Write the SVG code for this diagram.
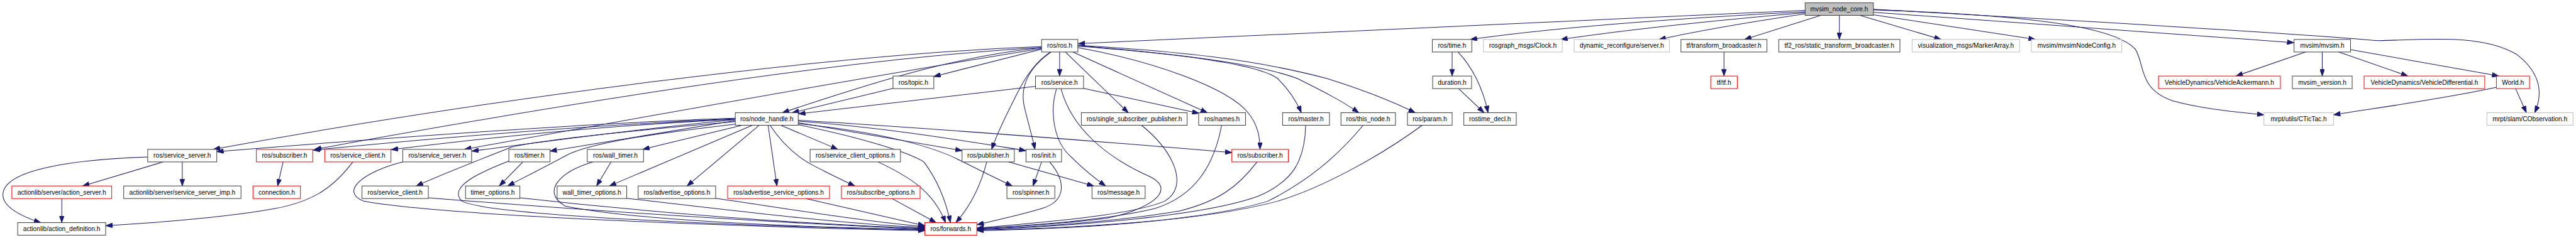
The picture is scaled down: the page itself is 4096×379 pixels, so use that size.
<svg xmlns="http://www.w3.org/2000/svg" width="4096" height="379" viewBox="0 0 4096 379">
<style>
.n rect{fill:#fff;stroke:#404040;stroke-width:1.3}
.n.r rect{stroke:#ff0000}
.n.g rect{stroke:#bfbfbf}
.n.root rect{fill:#bfbfbf}
.n text{font-family:"Liberation Sans",Arial,sans-serif;font-size:13.1px;text-anchor:middle;fill:#000}
#edges path{fill:none;stroke:#191970;stroke-width:1.3;marker-end:url(#a)}
</style>
<defs>
<marker id="a" viewBox="0 0 14 10" refX="14" refY="5" markerWidth="14" markerHeight="10" markerUnits="userSpaceOnUse" orient="auto">
<path d="M0,0 L14,5 L0,10 z" fill="#191970" stroke="#191970" stroke-width="1"/>
</marker>
</defs>
<rect width="4096" height="379" fill="#fff"/>
<g transform="scale(0.78138)">
<g id="edges">
<!-- root -->
<path d="M3673,21 L2194,89"/>
<path d="M3673,24 C3400,38 3150,58 2992,80.4"/>
<path d="M3673,26 C3500,40 3300,62 3176,80.4"/>
<path d="M3673,28 C3560,45 3450,64 3376,80.4"/>
<path d="M3705,31.3 L3550,80.4"/>
<path d="M3743,31.3 L3743,80.4"/>
<path d="M3785,31.3 L3950,80.4"/>
<path d="M3812,30 L4142,80.4"/>
<path d="M3812,25 L4668,87"/>
<path d="M3812,20 C4100,30 4300,50 4345,100 C4365,130 4350,180 4420,205 C4480,222 4550,228 4607,234"/>
<path d="M3812,19 C4200,40 4700,70 4840,83 C4950,80 5050,70 5120,110 C5160,140 5180,180 5158,229.7"/>
<!-- mvsim.h -->
<path d="M4692,106 L4550,155"/>
<path d="M4725.6,106 L4725.6,155"/>
<path d="M4759,106 L4900,155"/>
<path d="M4783,101 L5085,155"/>
<!-- World.h -->
<path d="M5080,178 C4980,200 4850,218 4748.5,234"/>
<path d="M5119,180.6 L5141,229.7"/>
<!-- tf -->
<path d="M3508.2,106 L3508.2,155"/>
<!-- time -->
<path d="M2955,106 L2955,155"/>
<path d="M2967,106 C2995,135 3018,180 3028,229.7"/>
<path d="M2968,180.6 L3020,229.7"/>
<!-- ros.h -->
<path d="M2156.3,106 L2156.3,155"/>
<path d="M2168,106 L2296,229.7"/>
<path d="M2183,106 L2457,229.7"/>
<path d="M2193,97 C2350,125 2500,180 2540,230 C2560,255 2564,280 2564,304.4"/>
<path d="M2193,94 C2400,110 2560,130 2600,160 C2620,180 2638,205 2648,229.7"/>
<path d="M2193,93 C2400,110 2560,130 2640,160 C2690,185 2730,205 2765,229.7"/>
<path d="M2193,92 C2400,105 2550,120 2700,160 C2780,185 2840,210 2880,229.7"/>
<path d="M2137,106 C2110,125 2090,150 2070,190 C2045,240 2030,270 2018,304.4"/>
<path d="M2139,106 C2090,140 2075,180 2085,220 C2092,250 2100,275 2106,304.4"/>
<path d="M2120,97 C1950,115 1800,160 1592,229.7"/>
<path d="M2120,100 L1900,156"/>
<path d="M2120,95 C1700,110 1000,200 434,304.4"/>
<path d="M2120,97 C1700,120 1100,220 640,304.4"/>
<path d="M2120,99 C1800,150 1300,240 945,304.4"/>
<!-- service.h -->
<path d="M2107,176 L1625,232"/>
<path d="M2205,180 L2440,231"/>
<path d="M2150,180.6 C2135,230 2145,290 2180,320 C2210,350 2230,365 2250,379"/>
<path d="M2159,180.6 C2180,260 2250,320 2340,360 C2400,390 2330,430 2250,445 C2150,458 2050,462 1988,466"/>
<!-- row3 to forwards -->
<path d="M2323,255.3 C2390,310 2420,380 2370,410 C2300,440 2100,455 1988,465"/>
<path d="M2486,255.3 C2470,340 2430,400 2350,425 C2250,450 2080,460 1988,466"/>
<path d="M2558,330 C2520,380 2480,410 2400,430 C2250,455 2100,463 1988,467"/>
<path d="M2657,255.3 C2655,330 2630,370 2560,400 C2450,440 2200,460 1988,468"/>
<path d="M2774,255.3 C2720,320 2660,370 2580,410 C2450,450 2200,465 1988,469"/>
<path d="M2894,255.3 C2820,310 2700,380 2600,410 C2450,450 2200,466 1988,470"/>
<!-- init / publisher -->
<path d="M2119.6,330 L2102,379"/>
<path d="M2136,330 C2170,370 2170,410 2120,425 C2070,440 2030,448 1988,458"/>
<path d="M2008,330 C1995,380 1975,420 1945,453.7"/>
<path d="M2052,330 L2226,379"/>
<!-- node_handle -->
<path d="M1496,241 C1200,250 800,280 441,309"/>
<path d="M1496,242 C1200,255 900,280 637,306"/>
<path d="M1496,243 C1200,258 1000,280 796,305"/>
<path d="M1496,244 C1300,262 1100,290 960,308"/>
<path d="M1496,246 C1350,270 1200,295 1119,308"/>
<path d="M1496,248 C1300,265 1100,285 1040,300 C990,320 900,355 847,379"/>
<path d="M1496,253 C1350,270 1200,290 1150,318 C1100,345 1060,365 1033,379"/>
<path d="M1510,255.3 L1308,304.4"/>
<path d="M1531,255.3 L1240,379"/>
<path d="M1545,255.3 L1398,379"/>
<path d="M1563,255.3 L1581,379"/>
<path d="M1567,255.3 C1590,290 1620,320 1660,340 C1690,355 1715,368 1740,379"/>
<path d="M1589,255.3 L1705,304.4"/>
<path d="M1624,250 L1958,307"/>
<path d="M1624,247 C1800,260 1950,285 2088,307"/>
<path d="M1624,252 C1800,270 1900,300 1950,325 C1990,345 2030,365 2060,379"/>
<path d="M1624,245 C1900,262 2200,285 2507,311"/>
<path d="M1624,254 C1750,280 1850,310 1880,330 C1910,370 1925,410 1934,453.7"/>
<path d="M1817,180 L1612,229.7"/>
<!-- into forwards from left/top -->
<path d="M1787,330 C1850,360 1900,390 1924,453.7"/>
<path d="M1815,404.6 L1905,453.7"/>
<path d="M1640,404.6 L1882,460"/>
<path d="M1456,404 C1600,425 1750,450 1882,462"/>
<path d="M1275,404 C1500,430 1700,455 1882,464"/>
<path d="M1058,403 C1300,430 1600,455 1882,466"/>
<path d="M1243.5,330 L1214,379"/>
<path d="M1207,330 C1140,350 1100,390 1150,420 C1300,450 1600,462 1882,468"/>
<path d="M1064,330 L1016,379"/>
<path d="M1036,328 C980,350 910,380 940,410 C1000,440 1500,460 1882,469"/>
<path d="M872,403 C1200,430 1600,455 1882,467"/>
<path d="M820,330 C740,350 690,390 740,410 C900,440 1500,462 1882,470"/>
<!-- actionlib side -->
<path d="M300.6,320 C150,325 10,345 6,395 C4,420 40,440 83,453.7"/>
<path d="M332,330 L168,379"/>
<path d="M370.9,330 L370.9,379"/>
<path d="M125.7,404.6 L125.7,453.7"/>
<path d="M718,330 C680,380 640,410 560,425 C450,445 300,455 215,460"/>
<path d="M576,330 L565,379"/>
</g>
<g id="n_root" class="n root"><rect x="3673.4" y="5.7" width="138.8" height="25.6"/><text x="3742.8" y="23">mvsim_node_core.h</text></g>
<g id="n_ros" class="n"><rect x="2119.6" y="80.4" width="73.7" height="25.6"/><text x="2156.45" y="97.7">ros/ros.h</text></g>
<g id="n_time" class="n"><rect x="2914.7" y="80.4" width="80.3" height="25.6"/><text x="2954.85" y="97.7">ros/time.h</text></g>
<g id="n_clock" class="n g"><rect x="3018.7" y="80.4" width="160.5" height="25.6"/><text x="3098.95" y="97.7">rosgraph_msgs/Clock.h</text></g>
<g id="n_dynrec" class="n g"><rect x="3203.3" y="80.4" width="193.9" height="25.6"/><text x="3300.25" y="97.7">dynamic_reconfigure/server.h</text></g>
<g id="n_tfbc" class="n"><rect x="3420.6" y="80.4" width="175" height="25.6"/><text x="3508.1" y="97.7">tf/transform_broadcaster.h</text></g>
<g id="n_tf2" class="n"><rect x="3619.7" y="80.4" width="246.5" height="25.6"/><text x="3742.95" y="97.7">tf2_ros/static_transform_broadcaster.h</text></g>
<g id="n_marker" class="n g"><rect x="3891" y="80.4" width="218.7" height="25.6"/><text x="4000.35" y="97.7">visualization_msgs/MarkerArray.h</text></g>
<g id="n_nodecfg" class="n g"><rect x="4133.8" y="80.4" width="183.9" height="25.6"/><text x="4225.75" y="97.7">mvsim/mvsimNodeConfig.h</text></g>
<g id="n_mvsim" class="n"><rect x="4668.3" y="80.4" width="114.9" height="25.6"/><text x="4725.75" y="97.7">mvsim/mvsim.h</text></g>
<g id="n_topic" class="n"><rect x="1817.2" y="155" width="83" height="25.6"/><text x="1858.7" y="172.3">ros/topic.h</text></g>
<g id="n_service" class="n"><rect x="2107.2" y="155" width="97.8" height="25.6"/><text x="2156.1" y="172.3">ros/service.h</text></g>
<g id="n_duration" class="n"><rect x="2915.4" y="155" width="79.2" height="25.6"/><text x="2955" y="172.3">duration.h</text></g>
<g id="n_tf" class="n r"><rect x="3481.2" y="155" width="54.1" height="25.6"/><text x="3508.25" y="172.3">tf/tf.h</text></g>
<g id="n_ack" class="n r"><rect x="4392.4" y="155" width="248" height="25.6"/><text x="4516.4" y="172.3">VehicleDynamics/VehicleAckermann.h</text></g>
<g id="n_version" class="n"><rect x="4664.8" y="155" width="121.7" height="25.6"/><text x="4725.65" y="172.3">mvsim_version.h</text></g>
<g id="n_diff" class="n r"><rect x="4810.8" y="155" width="245.5" height="25.6"/><text x="4933.55" y="172.3">VehicleDynamics/VehicleDifferential.h</text></g>
<g id="n_world" class="n r"><rect x="5080" y="155" width="67.4" height="25.6"/><text x="5113.7" y="172.3">World.h</text></g>
<g id="n_nh" class="n"><rect x="1496.3" y="229.7" width="128.1" height="25.6"/><text x="1560.35" y="247">ros/node_handle.h</text></g>
<g id="n_ssp" class="n"><rect x="2200.5" y="229.7" width="215.2" height="25.6"/><text x="2308.1" y="247">ros/single_subscriber_publisher.h</text></g>
<g id="n_names" class="n"><rect x="2439.2" y="229.7" width="95.3" height="25.6"/><text x="2486.85" y="247">ros/names.h</text></g>
<g id="n_master" class="n"><rect x="2610" y="229.7" width="95.4" height="25.6"/><text x="2657.7" y="247">ros/master.h</text></g>
<g id="n_thisnode" class="n"><rect x="2728.8" y="229.7" width="110.9" height="25.6"/><text x="2784.25" y="247">ros/this_node.h</text></g>
<g id="n_param" class="n"><rect x="2864.1" y="229.7" width="90.9" height="25.6"/><text x="2909.55" y="247">ros/param.h</text></g>
<g id="n_rtdecl" class="n"><rect x="2978.8" y="229.7" width="106.7" height="25.6"/><text x="3032.15" y="247">rostime_decl.h</text></g>
<g id="n_tictac" class="n g"><rect x="4607" y="229.7" width="141.5" height="25.6"/><text x="4677.75" y="247">mrpt/utils/CTicTac.h</text></g>
<g id="n_cobs" class="n g"><rect x="5060.7" y="229.7" width="175.3" height="25.6"/><text x="5148.35" y="247">mrpt/slam/CObservation.h</text></g>
<g id="n_ss1" class="n"><rect x="300.6" y="304.4" width="140.5" height="25.6"/><text x="370.85" y="321.7">ros/service_server.h</text></g>
<g id="n_sub1" class="n r"><rect x="521.7" y="304.4" width="114.7" height="25.6"/><text x="579.05" y="321.7">ros/subscriber.h</text></g>
<g id="n_sc1" class="n r"><rect x="660.8" y="304.4" width="134.7" height="25.6"/><text x="728.15" y="321.7">ros/service_client.h</text></g>
<g id="n_ss2" class="n"><rect x="819.6" y="304.4" width="140.1" height="25.6"/><text x="889.65" y="321.7">ros/service_server.h</text></g>
<g id="n_timer" class="n"><rect x="1035.5" y="304.4" width="83.7" height="25.6"/><text x="1077.35" y="321.7">ros/timer.h</text></g>
<g id="n_wtimer" class="n"><rect x="1195" y="304.4" width="114.6" height="25.6"/><text x="1252.3" y="321.7">ros/wall_timer.h</text></g>
<g id="n_sco" class="n"><rect x="1648.5" y="304.4" width="183.9" height="25.6"/><text x="1740.45" y="321.7">ros/service_client_options.h</text></g>
<g id="n_pub" class="n"><rect x="1957.7" y="304.4" width="106.4" height="25.6"/><text x="2010.9" y="321.7">ros/publisher.h</text></g>
<g id="n_init" class="n"><rect x="2087.9" y="304.4" width="72.3" height="25.6"/><text x="2124.05" y="321.7">ros/init.h</text></g>
<g id="n_sub2" class="n r"><rect x="2506.7" y="304.4" width="115" height="25.6"/><text x="2564.2" y="321.7">ros/subscriber.h</text></g>
<g id="n_aserver" class="n r"><rect x="24.1" y="379" width="203.2" height="25.6"/><text x="125.7" y="396.3">actionlib/server/action_server.h</text></g>
<g id="n_ssimp" class="n"><rect x="251.7" y="379" width="238.7" height="25.6"/><text x="371.05" y="396.3">actionlib/server/service_server_imp.h</text></g>
<g id="n_conn" class="n r"><rect x="514.8" y="379" width="96.5" height="25.6"/><text x="563.05" y="396.3">connection.h</text></g>
<g id="n_sc2" class="n"><rect x="736.6" y="379" width="135" height="25.6"/><text x="804.1" y="396.3">ros/service_client.h</text></g>
<g id="n_topts" class="n"><rect x="947.3" y="379" width="110.6" height="25.6"/><text x="1002.6" y="396.3">timer_options.h</text></g>
<g id="n_wtopts" class="n"><rect x="1133.7" y="379" width="141.5" height="25.6"/><text x="1204.45" y="396.3">wall_timer_options.h</text></g>
<g id="n_aopts" class="n"><rect x="1298.6" y="379" width="157.7" height="25.6"/><text x="1377.45" y="396.3">ros/advertise_options.h</text></g>
<g id="n_asopts" class="n r"><rect x="1480.8" y="379" width="207.3" height="25.6"/><text x="1584.45" y="396.3">ros/advertise_service_options.h</text></g>
<g id="n_subopts" class="n r"><rect x="1712.2" y="379" width="160.1" height="25.6"/><text x="1792.25" y="396.3">ros/subscribe_options.h</text></g>
<g id="n_spinner" class="n"><rect x="2049" y="379" width="97.5" height="25.6"/><text x="2097.75" y="396.3">ros/spinner.h</text></g>
<g id="n_message" class="n"><rect x="2222.2" y="379" width="108.1" height="25.6"/><text x="2276.25" y="396.3">ros/message.h</text></g>
<g id="n_adef" class="n"><rect x="36" y="453.7" width="179" height="25.6"/><text x="125.5" y="471">actionlib/action_definition.h</text></g>
<g id="n_fwd" class="n r"><rect x="1882" y="453.7" width="105.7" height="25.6"/><text x="1934.85" y="471">ros/forwards.h</text></g>
</g>
</svg>
